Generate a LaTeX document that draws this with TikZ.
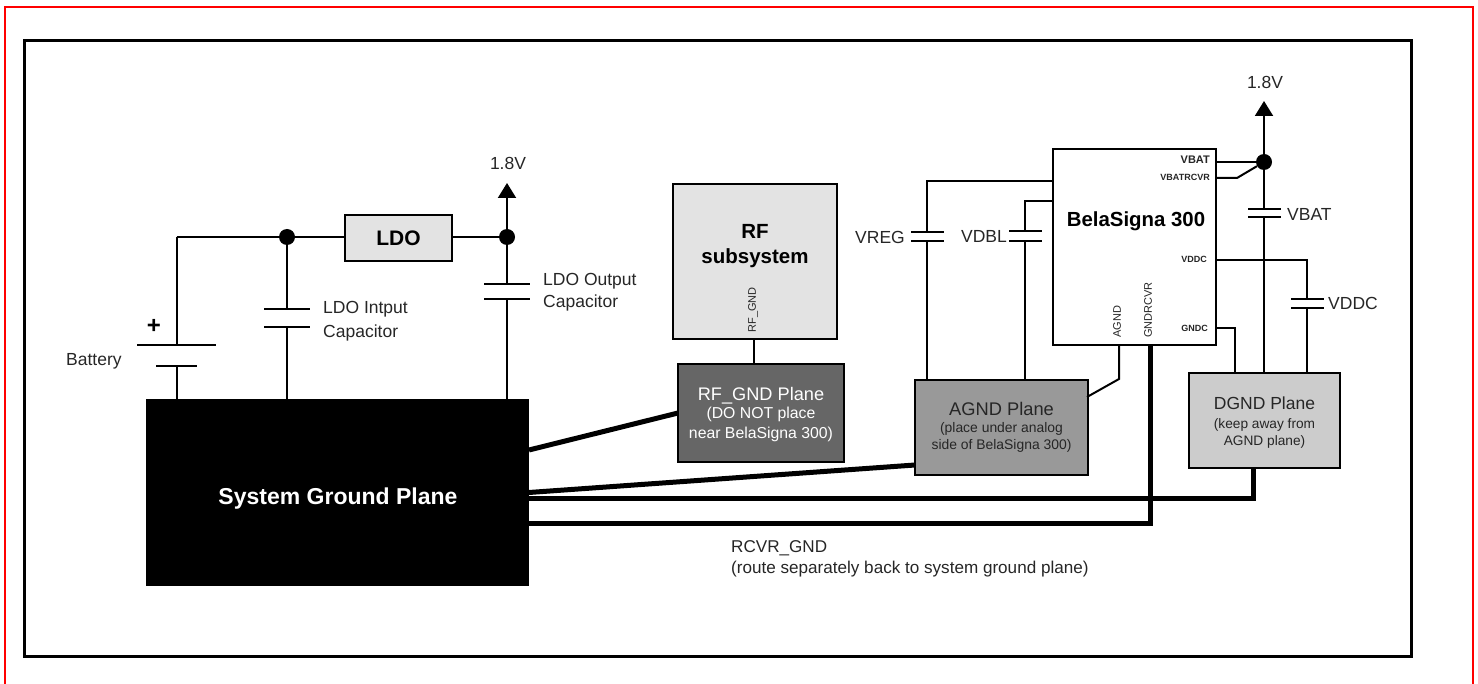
\documentclass[tikz,border=0pt]{standalone}
\usepackage{fontspec}
\setmainfont{Liberation Sans}
\usetikzlibrary{arrows.meta}

\begin{document}
\begin{tikzpicture}[
    x=1pt, y=-1pt,
    caja/.style={draw=black, line width=2pt, minimum width=#1, inner sep=0pt},
    placa/.style={fill=black, minimum width=#1, minimum height=2pt, inner sep=0pt},
    punto/.style={circle, fill=black, minimum size=16pt, inner sep=0pt},
    wire/.style={draw=black, line width=2pt},
    grueso/.style={draw=black, line width=5pt},
    flecha/.style={wire, -{Triangle[length=15pt,width=18pt]}},
    lbl/.style={font=\fontsize{17.5}{21}\selectfont, text=black!85, inner sep=0pt},
    titulo/.style={font=\fontsize{#1}{#1*1.2}\selectfont\bfseries, text=black, inner sep=0pt},
    pin/.style={font=\fontsize{9}{10}\selectfont\bfseries, text=black!85, inner sep=0pt},
    pinv/.style={font=\fontsize{11}{12}\selectfont, text=black!85, inner sep=0pt, rotate=90}
]
\useasboundingbox (0,0) rectangle (1478,684);

% Marcos
\draw[red, line width=2pt] (5,684) -- (5,7) -- (1473,7) -- (1473,684);
\draw[black, line width=3pt] (24,41) rectangle (1411,656);

% Cajas
\node[caja=381pt, minimum height=185pt, fill=black] (sys) at (337.5,492.5) {};
\node[titulo=23pt, text=white] (systxt) at (338,499) {System Ground Plane};
\node[caja=107pt, minimum height=46pt, fill=black!11] (ldo) at (398.5,238.5) {\fontsize{21}{23}\selectfont\bfseries LDO};
\node[caja=164pt, minimum height=155pt, fill=black!11] (rf) at (755,262) {};
\node[titulo=20.5pt, align=center] (rftxt) at (755,246) {RF\\[5pt]subsystem};
\node[pinv] (rfpin) at (753,310) {RF\_GND};
\node[caja=166pt, minimum height=98pt, fill=black!60] (rfgnd) at (761,413) {};
\node[lbl, text=white, align=center] (rfgndtxt) at (761,415) {\fontsize{18.2}{21}\selectfont RF\_GND Plane\\[-3pt]{\fontsize{15.8}{19.5}\selectfont (DO NOT place}\\[-1pt]{\fontsize{15.8}{19.5}\selectfont near BelaSigna 300)}};
\node[caja=173pt, minimum height=95pt, fill=black!40] (agnd) at (1001.5,427.5) {};
\node[lbl, align=center] (agndtxt) at (1001.5,427) {\fontsize{18.3}{21}\selectfont AGND Plane\\[-4pt]\fontsize{13.9}{16.5}\selectfont (place under analog\\[-4pt]\fontsize{13.9}{16.5}\selectfont side of BelaSigna 300)};
\node[caja=151pt, minimum height=95pt, fill=black!20] (dgnd) at (1264.5,420.5) {};
\node[lbl, align=center] (dgndtxt) at (1264.5,423) {DGND Plane\\[-2pt]\fontsize{13.7}{16.5}\selectfont (keep away from\\[-4pt]\fontsize{13.7}{16.5}\selectfont AGND plane)};
\node[caja=163pt, minimum height=196pt, fill=white] (bela) at (1134.5,247) {};
\node[titulo=20.4pt] (belatxt) at (1136,221) {BelaSigna 300};
\node[lbl, anchor=west, align=left, font=\fontsize{17.1}{21}\selectfont] (rcvrtxt) at (731,559) {RCVR\_GND\\(route separately back to system ground plane)};

% Pines
\node[pin, anchor=east, font=\fontsize{11}{12}\selectfont\bfseries] (pvbat) at (1210,160) {VBAT};
\node[pin, anchor=east] (pvrcvr) at (1210,177) {VBATRCVR};
\node[pin, anchor=east] (pvddc) at (1207,259) {VDDC};
\node[pin, anchor=east] (pgndc) at (1208,328) {GNDC};
\node[pinv, anchor=west] (pagnd) at (1117,338) {AGND};
\node[pinv, anchor=west] (pgrcvr) at (1148,338) {GNDRCVR};

% Bateria y condensadores
\node[placa=79pt] (bat1) at (176.5,345) {};
\node[placa=41pt] (bat2) at (176.5,366) {};
\node[font=\fontsize{24}{24}\selectfont\bfseries, inner sep=0pt] (mas) at (154,326) {+};
\node[lbl, anchor=west] (battxt) at (66,361) {Battery};
\node[placa=46pt] (cin1) at (287,309) {};
\node[placa=46pt] (cin2) at (287,327) {};
\node[lbl, anchor=west, align=left] (cintxt) at (323,321) {LDO Intput\\[3pt]Capacitor};
\node[placa=46pt] (cout1) at (507,284) {};
\node[placa=46pt] (cout2) at (507,299) {};
\node[lbl, anchor=west, align=left] (couttxt) at (543,292) {LDO Output\\[1pt]Capacitor};
\node[placa=33pt] (creg1) at (927,232) {};
\node[placa=33pt] (creg2) at (927,241) {};
\node[lbl, anchor=east] (cregtxt) at (905,237) {VREG};
\node[placa=33pt] (cdbl1) at (1025,231) {};
\node[placa=33pt] (cdbl2) at (1025,241) {};
\node[lbl, anchor=east] (cdbltxt) at (1007,236) {VDBL};
\node[placa=33pt] (cbat1) at (1264,209) {};
\node[placa=33pt] (cbat2) at (1264,217) {};
\node[lbl, anchor=west] (cbattxt) at (1287,214) {VBAT};
\node[placa=33pt] (cddc1) at (1307,299) {};
\node[placa=33pt] (cddc2) at (1307,308) {};
\node[lbl, anchor=west] (cddctxt) at (1328,303) {VDDC};

% Puntos y alimentacion
\node[punto] (jin) at (287,237) {};
\node[punto] (jout) at (507,237) {};
\node[punto] (jbat) at (1264,162) {};
\node[lbl] (v1) at (508,163) {1.8V};
\node[lbl] (v2) at (1265,82) {1.8V};
\coordinate (v1tip) at (507,183);
\coordinate (v2tip) at (1264,101);
\coordinate (esq) at (176.5,237);
\coordinate (esqreg) at (927,181);
\coordinate (belareg) at (1053,181);
\coordinate (esqdbl) at (1025,201);
\coordinate (beladbl) at (1053,201);
\coordinate (belabat) at (1216,162);
\coordinate (belarcvr) at (1216,178);
\coordinate (codorcvr) at (1237,178);
\coordinate (beladdc) at (1216,260);
\coordinate (esqddc) at (1307,260);
\coordinate (belagc) at (1216,328);
\coordinate (esqgc) at (1235,328);
\coordinate (belaag) at (1119,345);
\coordinate (codoag) at (1119,379);
\coordinate (agndpin) at (1087,397);
\coordinate (belagr) at (1150,345);
\coordinate (esqgr) at (1150,523.5);
\coordinate (sysgr) at (529,523.5);
\coordinate (dgndpin) at (1253,468);
\coordinate (esqdg) at (1253,498);
\coordinate (sysdg) at (529,498);
\coordinate (sysag) at (529,492.5);
\coordinate (agndag) at (915,465);
\coordinate (sysrf) at (529,450);
\coordinate (rfrf) at (678,413);
\coordinate (rfbaja) at (754,339);
\coordinate (rfgndalta) at (754,364);

% Conexiones
\draw[wire] (esq) -- (jin);
\draw[wire] (jin) -- (jin -| ldo.west);
\draw[wire] (jout -| ldo.east) -- (jout);
\draw[flecha] (jout) -- (v1tip);
\draw[wire] (esq) -- (bat1);
\draw[wire] (bat2) -- (bat2 |- sys.north);
\draw[wire] (jin) -- (cin1);
\draw[wire] (cin2) -- (cin2 |- sys.north);
\draw[wire] (jout) -- (cout1);
\draw[wire] (cout2) -- (cout2 |- sys.north);
\draw[wire] (rfbaja) -- (rfgndalta);
\draw[wire] (belareg) -- (esqreg) -- (creg1);
\draw[wire] (creg2) -- (creg2 |- agnd.north);
\draw[wire] (beladbl) -- (esqdbl) -- (cdbl1);
\draw[wire] (cdbl2) -- (cdbl2 |- agnd.north);
\draw[wire] (belabat) -- (jbat);
\draw[wire] (belarcvr) -- (codorcvr) -- (jbat);
\draw[flecha] (jbat) -- (v2tip);
\draw[wire] (jbat) -- (cbat1);
\draw[wire] (cbat2) -- (cbat2 |- dgnd.north);
\draw[wire] (beladdc) -- (esqddc) -- (cddc1);
\draw[wire] (cddc2) -- (cddc2 |- dgnd.north);
\draw[wire] (belagc) -- (esqgc) -- (esqgc |- dgnd.north);
\draw[wire] (belaag) -- (codoag) -- (agndpin);
\draw[grueso] (sysrf) -- (rfrf);
\draw[grueso] (sysag) -- (agndag);
\draw[grueso] (sysdg) -- (esqdg) -- (dgndpin);
\draw[grueso] (sysgr) -- (esqgr) -- (belagr);

\end{tikzpicture}
\end{document}
